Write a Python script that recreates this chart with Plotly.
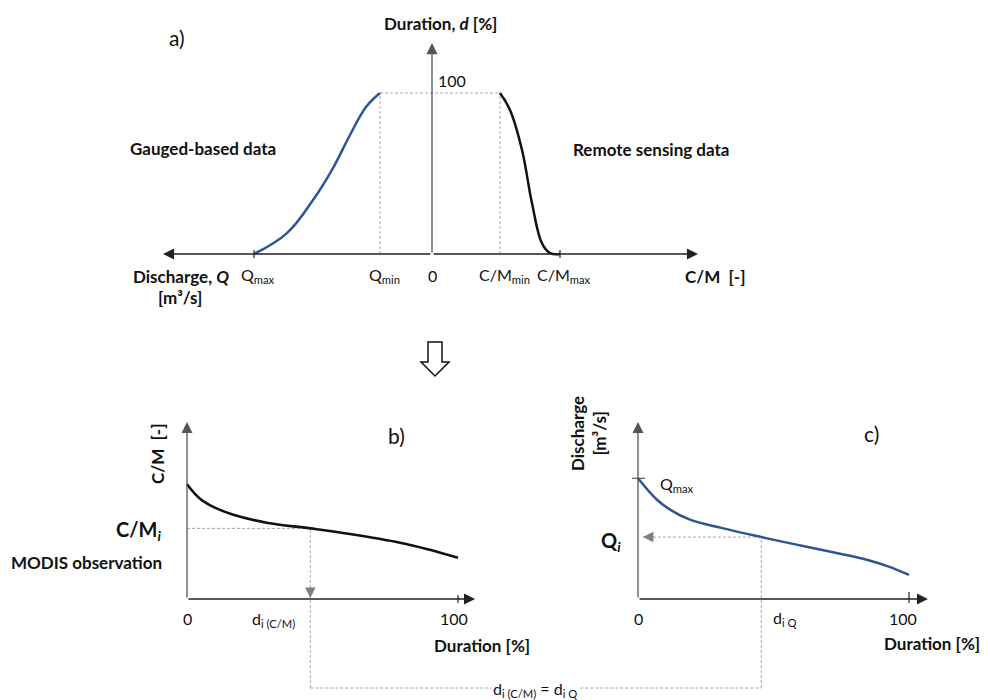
import plotly.graph_objects as go

W, H = 990, 700          # target picture size
OFF = 8                  # page body margin of the browser
FW, FH = W - OFF, H - OFF  # figure size so it fits the window
FONT = "Lato"

# ---------------- data ----------------
# a) schematic duration curves (x: schematic position on the axis, 0 = origin;
#    negative side = discharge Q, positive side = C/M ratio)
gauged_x = [-17.8, -14.5, -11.9, -9.9, -8.2, -6.6, -5.2]
gauged_d = [0, 13.0, 33.5, 53.4, 73.9, 91.3, 100]
rs_x = [6.8, 7.8, 9.0, 10.0, 11.0, 11.8, 12.8]
rs_d = [100, 89.4, 64.6, 31.5, 6.6, 0.6, 0]
a_tick_pos = [-17.8, -5.2, 0, 6.8, 12.8]
a_tick_text = ["Q<sub>max</sub>", "Q<sub>min</sub>", "0", "C/M<sub>min</sub>", "C/M<sub>max</sub>"]
Q_MAX_POS, Q_MIN_POS, CM_MIN_POS, CM_MAX_POS = -17.8, -5.2, 6.8, 12.8

# b) C/M duration curve
cm_dur = [0, 4.8, 9.7, 17.1, 29.4, 45.5, 60.1, 78.6, 88.4, 100]
cm_val = [0.648, 0.566, 0.520, 0.476, 0.431, 0.399, 0.367, 0.318, 0.283, 0.233]
cm_i_dur, cm_i_val = 45.5, 0.399

# c) discharge duration curve
q_dur = [0, 6.9, 11.8, 19.2, 31.5, 45.5, 62.2, 74.5, 84.4, 92.0, 100]
q_val = [0.682, 0.562, 0.505, 0.448, 0.399, 0.350, 0.295, 0.256, 0.222, 0.186, 0.136]
q_i_dur, q_i_val = 45.5, 0.350

# ---------------- geometry (pixel origin and scale of each panel) ----------------
GEO = {
    "a": dict(ox=432 - OFF, oy=254 - OFF, sx=10.0, sy=1.61),
    "b": dict(ox=187 - OFF, oy=599 - OFF, sx=2.71, sy=177.0),
    "c": dict(ox=638 - OFF, oy=599 - OFF, sx=2.71, sy=177.0),
}
AX = {"a": ("x", "y"), "b": ("x2", "y2"), "c": ("x3", "y3")}


def xr(g):
    return [(0 - g["ox"]) / g["sx"], (FW - g["ox"]) / g["sx"]]


def yr(g):
    return [(g["oy"] - FH) / g["sy"], g["oy"] / g["sy"]]


def paper(p, x, y):
    g = GEO[p]
    return (g["ox"] + x * g["sx"]) / FW, 1 - (g["oy"] - y * g["sy"]) / FH


def P(px, row):
    return (px - OFF) / FW, 1 - (row - OFF) / FH


fig = go.Figure()

BLUE = "#2F5597"
GREY = "#A6A6A6"
DASH = "3px,2px"


def line(p, xs, ys, color, width, dash=None, shape="linear"):
    xa, ya = AX[p]
    fig.add_trace(go.Scatter(x=xs, y=ys, xaxis=xa, yaxis=ya, mode="lines",
                             line=dict(color=color, width=width, dash=dash, shape=shape,
                                       smoothing=1.1),
                             hoverinfo="skip", showlegend=False))


def arrow(p, x, y, ax, ay, color="#222", width=1.3, size=1.7, pixel=False):
    xa, ya = AX[p]
    kw = dict(axref="pixel", ayref="pixel") if pixel else dict(axref=xa, ayref=ya)
    fig.add_annotation(x=x, y=y, ax=ax, ay=ay, xref=xa, yref=ya, text="", showarrow=True,
                       arrowhead=2, arrowsize=size, arrowwidth=width, arrowcolor=color,
                       standoff=0, **kw)


def text(px, row, s, size=17, bold=False, xanchor="center", angle=0, bg=None, color="#111"):
    x, y = P(px, row)
    if bold:
        s = "<b>" + s + "</b>"
    fig.add_annotation(x=x, y=y, xref="paper", yref="paper", text=s, showarrow=False,
                       xanchor=xanchor, yanchor="middle", textangle=angle,
                       font=dict(family=FONT, size=size, color=color),
                       bgcolor=bg, borderpad=1)


def tlabel(p, x, y, s, xshift=0, yshift=-19, size=16, xanchor="center"):
    xa, ya = AX[p]
    fig.add_annotation(x=x, y=y, xref=xa, yref=ya, text=s, showarrow=False,
                       xshift=xshift, yshift=yshift, xanchor=xanchor,
                       font=dict(family=FONT, size=size, color="#111"))


# ---------------- panel a ----------------
line("a", [Q_MIN_POS, CM_MIN_POS], [100, 100], GREY, 1, DASH)
line("a", [Q_MIN_POS, Q_MIN_POS], [0, 100], GREY, 1, DASH)
line("a", [CM_MIN_POS, CM_MIN_POS], [0, 100], GREY, 1, DASH)
arrow("a", -26.9, 0, 0, 0, color="#222", width=1.3)
arrow("a", 26.6, 0, 0, 0, color="#222", width=1.3)
arrow("a", 0, 131, 0, 0, color="#555", width=1.3)
for xp in (Q_MAX_POS, CM_MAX_POS):
    line("a", [xp, xp], [-2.5, 2.5], "#222", 1.2)
line("a", gauged_x, gauged_d, BLUE, 2.5, shape="spline")
line("a", rs_x, rs_d, "#111", 2.5, shape="spline")
for xp, s in zip(a_tick_pos, a_tick_text):
    tlabel("a", xp, 0, s, xshift=(4 if s != "0" else 0), yshift=-21)
tlabel("a", 0, 100, "100", xshift=4, yshift=13, xanchor="left")

text(177, 38, "a)", size=21)
text(440, 24, "Duration, <i>d</i> [%]", bold=True)
text(203, 148, "Gauged-based data", bold=True)
text(651, 149, "Remote sensing data", bold=True)
text(181, 276, "Discharge, <i>Q</i>", bold=True)
text(180, 297, "[m³/s]", bold=True)
text(715, 276, "C/M  [-]", bold=True)

# hollow down arrow between panels
pts = [(428, 342), (442, 342), (442, 362), (449, 362), (435, 376), (421, 362), (428, 362)]
path = "M " + " L ".join(f"{P(a, b)[0]:.5f},{P(a, b)[1]:.5f}" for a, b in pts) + " Z"
fig.add_shape(type="path", path=path, xref="paper", yref="paper",
              line=dict(color="#111", width=1.5), fillcolor="white")

# ---------------- panel b ----------------
CONN = -0.503  # level of the bottom connector
line("b", [0, cm_i_dur], [cm_i_val, cm_i_val], GREY, 1, DASH)
line("b", [cm_i_dur, cm_i_dur], [CONN, cm_i_val], GREY, 1, DASH)
arrow("b", 106.3, 0, 0, 0, color="#222", width=1.3)
arrow("b", 0, 1.0, 0, 0, color="#555", width=1.3)
line("b", [100, 100], [-0.023, 0.023], "#222", 1.2)
line("b", cm_dur, cm_val, "#111", 2.6, shape="spline")
arrow("b", cm_i_dur, 0.005, 0, -11, color="#7F7F7F", width=1.5, size=1.4, pixel=True)

tlabel("b", 0, 0, "0")
tlabel("b", 100, 0, "100", xshift=-4)
tlabel("b", cm_i_dur, 0, "d<sub>i (C/M)</sub>", xshift=-37, yshift=-20)

text(396, 435, "b)", size=21)
text(157, 454, "C/M  [-]", bold=True, angle=-90)
text(163, 530, "C/M<sub><i>i</i></sub>", size=20, bold=True, xanchor="right")
text(164, 562, "MODIS observation", bold=True, xanchor="right")
text(482, 645, "Duration [%]", bold=True)

# ---------------- panel c ----------------
line("c", [1.8, q_i_dur], [q_i_val, q_i_val], GREY, 1, DASH)
line("c", [q_i_dur, q_i_dur], [CONN, q_i_val], GREY, 1, DASH)
arrow("c", 107.0, 0, 0, 0, color="#222", width=1.3)
arrow("c", 0, 1.0, 0, 0, color="#555", width=1.3)
line("c", [100, 100], [-0.023, 0.04], "#222", 1.2)
line("c", [-2.2, 2.6], [q_val[0], q_val[0]], "#555", 1.2)
line("c", q_dur, q_val, BLUE, 2.5, shape="spline")
arrow("c", 1.8, q_i_val, 12, 0, color="#7F7F7F", width=1.5, size=1.4, pixel=True)

tlabel("c", 0, 0, "0")
tlabel("c", 100, 0, "100", xshift=-6)
tlabel("c", q_i_dur, 0, "d<sub>i Q</sub>", xshift=24)
tlabel("c", 0, q_val[0], "Q<sub>max</sub>", xshift=20, yshift=-6, xanchor="left")

text(871, 433, "c)", size=21)
text(588, 434, "Discharge<br>[m³/s]", bold=True, angle=-90)
text(611, 541, "Q<sub><i>i</i></sub>", size=20, bold=True)
text(932, 643, "Duration [%]", bold=True)

# ---------------- connector ----------------
x0, y0 = paper("b", cm_i_dur, CONN)
x1, y1 = paper("c", q_i_dur, CONN)
fig.add_shape(type="line", xref="paper", yref="paper", x0=x0, y0=y0, x1=x1, y1=y1,
              line=dict(color=GREY, width=1, dash=DASH))
text(535, 689, "d<sub>i (C/M)</sub> = d<sub>i Q</sub>", size=16, bg="white")

# ---------------- layout ----------------
hidden = dict(visible=False, fixedrange=True, domain=[0, 1])
fig.update_layout(
    width=FW, height=FH, margin=dict(l=0, r=0, t=0, b=0),
    paper_bgcolor="white", plot_bgcolor="white", showlegend=False,
    xaxis=dict(range=xr(GEO["a"]), **hidden),
    yaxis=dict(range=yr(GEO["a"]), **hidden),
    xaxis2=dict(range=xr(GEO["b"]), overlaying="x", **hidden),
    yaxis2=dict(range=yr(GEO["b"]), overlaying="y", **hidden),
    xaxis3=dict(range=xr(GEO["c"]), overlaying="x", **hidden),
    yaxis3=dict(range=yr(GEO["c"]), overlaying="y", **hidden),
)

fig.write_html("out.html")
